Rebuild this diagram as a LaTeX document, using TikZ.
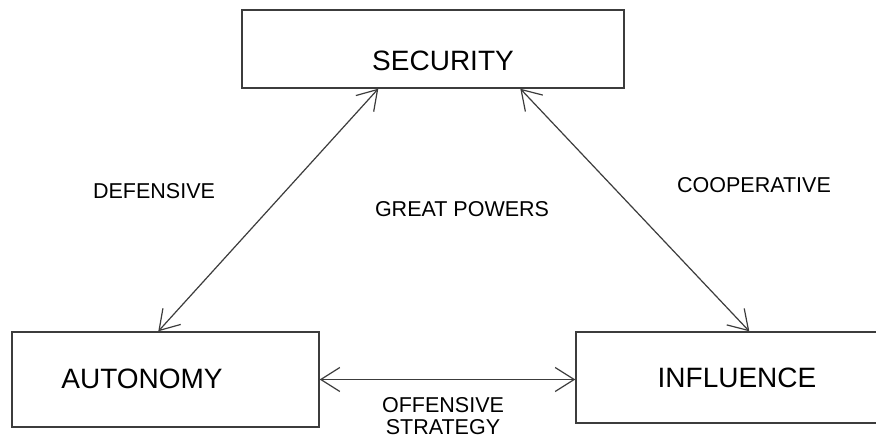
\documentclass[tikz,border=0pt]{standalone}
\usepackage{fontspec}
\setmainfont{Liberation Sans}
\usetikzlibrary{arrows.meta}
\definecolor{linegray}{HTML}{3C3C3C}
\begin{document}
\begin{tikzpicture}[x=1pt,y=-1pt,
  box/.style={draw=linegray, line width=1.4pt, rectangle, inner sep=0pt},
  bigtext/.style={font=\fontsize{28}{30}\selectfont, inner sep=0pt},
  smalltext/.style={font=\fontsize{21.5}{22}\selectfont, inner sep=0pt, align=center},
  arr/.style={draw=linegray, line width=1.2pt, {Straight Barb[length=19pt,width=24pt]}-{Straight Barb[length=19pt,width=24pt]}}]
\useasboundingbox (0,0) rectangle (876,441);
\clip (0,0) rectangle (876,441);
\fill[white] (0,0) rectangle (876,441);
% boxes
\node[box, minimum width=382pt, minimum height=78pt] (sec) at (433,49) {};
\node[box, minimum width=307pt, minimum height=95pt] (aut) at (165.5,379.5) {};
\node[box, minimum width=306pt, minimum height=91pt] (inf) at (729,377.5) {};
% box texts
\node[bigtext] (sect) at (443,61) {SECURITY};
\node[bigtext] (autt) at (142,379) {AUTONOMY};
\node[bigtext] (inft) at (737,377.5) {INFLUENCE};
% connectors
\draw[arr] ([xshift=137pt]sec.south west) -- ([xshift=147pt]aut.north west);
\draw[arr] ([xshift=279pt]sec.south west) -- ([xshift=174pt]inf.north west);
\draw[arr] (aut.east) -- (aut.east -| inf.west);
% labels
\node[smalltext] (def) at (154,191) {DEFENSIVE};
\node[smalltext] (gp) at (462,209) {GREAT POWERS};
\node[smalltext] (coop) at (754,185) {COOPERATIVE};
\node[smalltext] (off) at (443,416) {OFFENSIVE\\STRATEGY};
\end{tikzpicture}
\end{document}
